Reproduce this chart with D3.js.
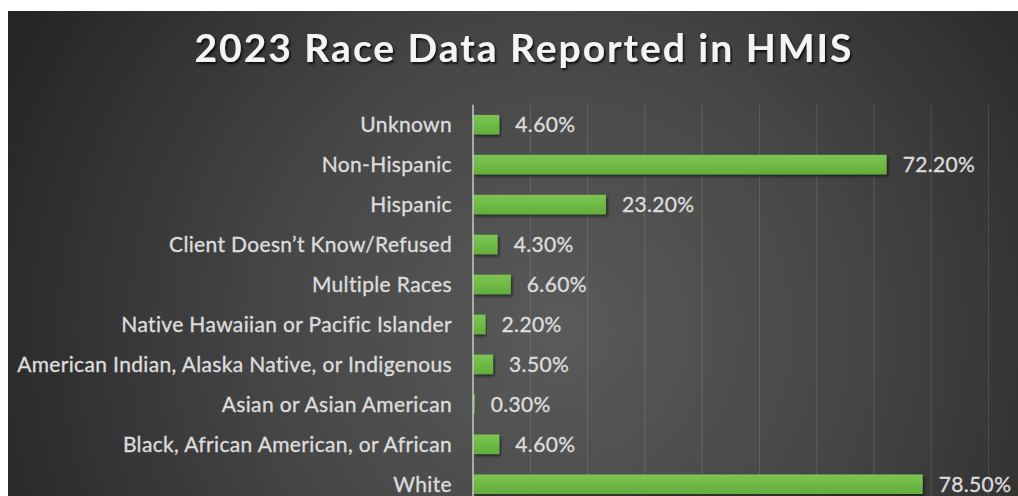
<!DOCTYPE html>
<html>
<head>
<meta charset="utf-8">
<script src="https://cdn.jsdelivr.net/npm/d3@7"></script>
<style>
  html, body { margin: 0; padding: 0; background: #ffffff; }
  svg { display: block; }
</style>
</head>
<body>
<svg id="chart" width="1018" height="496"></svg>
<script>
// Race categories as reported in HMIS, top to bottom
const categories = [
  "Unknown",
  "Non-Hispanic",
  "Hispanic",
  "Client Doesn\u2019t Know/Refused",
  "Multiple Races",
  "Native Hawaiian or Pacific Islander",
  "American Indian, Alaska Native, or Indigenous",
  "Asian or Asian American",
  "Black, African American, or African",
  "White"
];
// Share of clients in each category
const shares = [0.046, 0.722, 0.232, 0.043, 0.066, 0.022, 0.035, 0.003, 0.046, 0.785];
// Value axis ticks (gridlines only, no tick labels)
const gridTicks = [0, 0.1, 0.2, 0.3, 0.4, 0.5, 0.6, 0.7, 0.8, 0.9];
const chartTitle = "2023 Race Data Reported in HMIS";

const W = 1018, H = 496;
const labelFont = "Lato, 'Open Sans', sans-serif";
const svg = d3.select("#chart");
const defs = svg.append("defs");

// Dark radial backdrop
const bg = defs.append("radialGradient")
  .attr("id", "bgGrad")
  .attr("gradientUnits", "userSpaceOnUse")
  .attr("cx", 560).attr("cy", 330).attr("r", 620);
bg.append("stop").attr("offset", "0%").attr("stop-color", "#5a5a5a");
bg.append("stop").attr("offset", "45%").attr("stop-color", "#474747");
bg.append("stop").attr("offset", "100%").attr("stop-color", "#252525");

// Bar fill
const barGrad = defs.append("linearGradient")
  .attr("id", "barGrad").attr("x1", 0).attr("y1", 0).attr("x2", 0).attr("y2", 1);
barGrad.append("stop").attr("offset", "0%").attr("stop-color", "#7cc553");
barGrad.append("stop").attr("offset", "100%").attr("stop-color", "#62ad3b");

const barShadow = defs.append("filter").attr("id", "barShadow")
  .attr("x", "-5%").attr("y", "-30%").attr("width", "115%").attr("height", "180%");
barShadow.append("feDropShadow")
  .attr("dx", 1.5).attr("dy", 2).attr("stdDeviation", 1.5)
  .attr("flood-color", "#000").attr("flood-opacity", 0.55);

const titleShadow = defs.append("filter").attr("id", "titleShadow")
  .attr("x", "-5%").attr("y", "-30%").attr("width", "110%").attr("height", "170%");
titleShadow.append("feDropShadow")
  .attr("dx", 1.5).attr("dy", 2).attr("stdDeviation", 1.2)
  .attr("flood-color", "#000").attr("flood-opacity", 0.8);

// Chart area
svg.append("rect")
  .attr("x", 8).attr("y", 11).attr("width", W - 8).attr("height", H - 11)
  .attr("fill", "url(#bgGrad)");

// Scales
const plotLeft = 473, plotTop = 104.7;
const step = 39.95;
const x = d3.scaleLinear().domain([0, 0.9]).range([plotLeft, 988.6]);
const y = d3.scaleBand()
  .domain(categories)
  .range([plotTop, plotTop + step * categories.length])
  .paddingInner(0.51)
  .paddingOuter(0.255);

// Vertical gridlines
svg.append("g").selectAll("line")
  .data(gridTicks.slice(1))
  .join("line")
  .attr("x1", d => x(d)).attr("x2", d => x(d))
  .attr("y1", plotTop).attr("y2", H)
  .attr("stroke", "rgba(255,255,255,0.13)")
  .attr("stroke-width", 1);

// Bars
svg.append("g").selectAll("rect")
  .data(categories)
  .join("rect")
  .attr("x", x(0))
  .attr("y", d => y(d))
  .attr("width", (d, i) => x(shares[i]) - x(0))
  .attr("height", y.bandwidth())
  .attr("fill", "url(#barGrad)")
  .attr("filter", "url(#barShadow)");

// Shared text styling for axis and value labels
function styleLabel(sel) {
  sel.attr("fill", "#dcdcdc")
    .attr("stroke", "#dcdcdc")
    .attr("stroke-width", 0.35)
    .style("font-family", labelFont)
    .style("font-size", "21px")
    .style("letter-spacing", "0.35px");
}

// Category axis
const yAxis = svg.append("g")
  .attr("transform", `translate(${plotLeft},0)`)
  .call(d3.axisLeft(y).tickSize(0).tickPadding(21));
yAxis.select(".domain")
  .attr("d", `M0,${plotTop}V${H}`)
  .attr("stroke", "#c8c8c8")
  .attr("stroke-width", 1.5);
yAxis.selectAll("text")
  .call(styleLabel)
  .attr("dy", "0.36em");

// Value labels
svg.append("g").selectAll("text")
  .data(categories)
  .join("text")
  .attr("x", (d, i) => x(shares[i]) + 16)
  .attr("y", d => y(d) + y.bandwidth() / 2)
  .attr("dy", "0.36em")
  .call(styleLabel)
  .text((d, i) => d3.format(".2%")(shares[i]));

// Title
svg.append("text")
  .attr("x", 523).attr("y", 62)
  .attr("text-anchor", "middle")
  .attr("fill", "#f4f4f4")
  .attr("filter", "url(#titleShadow)")
  .attr("textLength", 657)
  .attr("lengthAdjust", "spacing")
  .style("font-family", labelFont)
  .style("font-weight", "bold")
  .style("font-size", "39px")
  .text(chartTitle);
</script>
</body>
</html>
